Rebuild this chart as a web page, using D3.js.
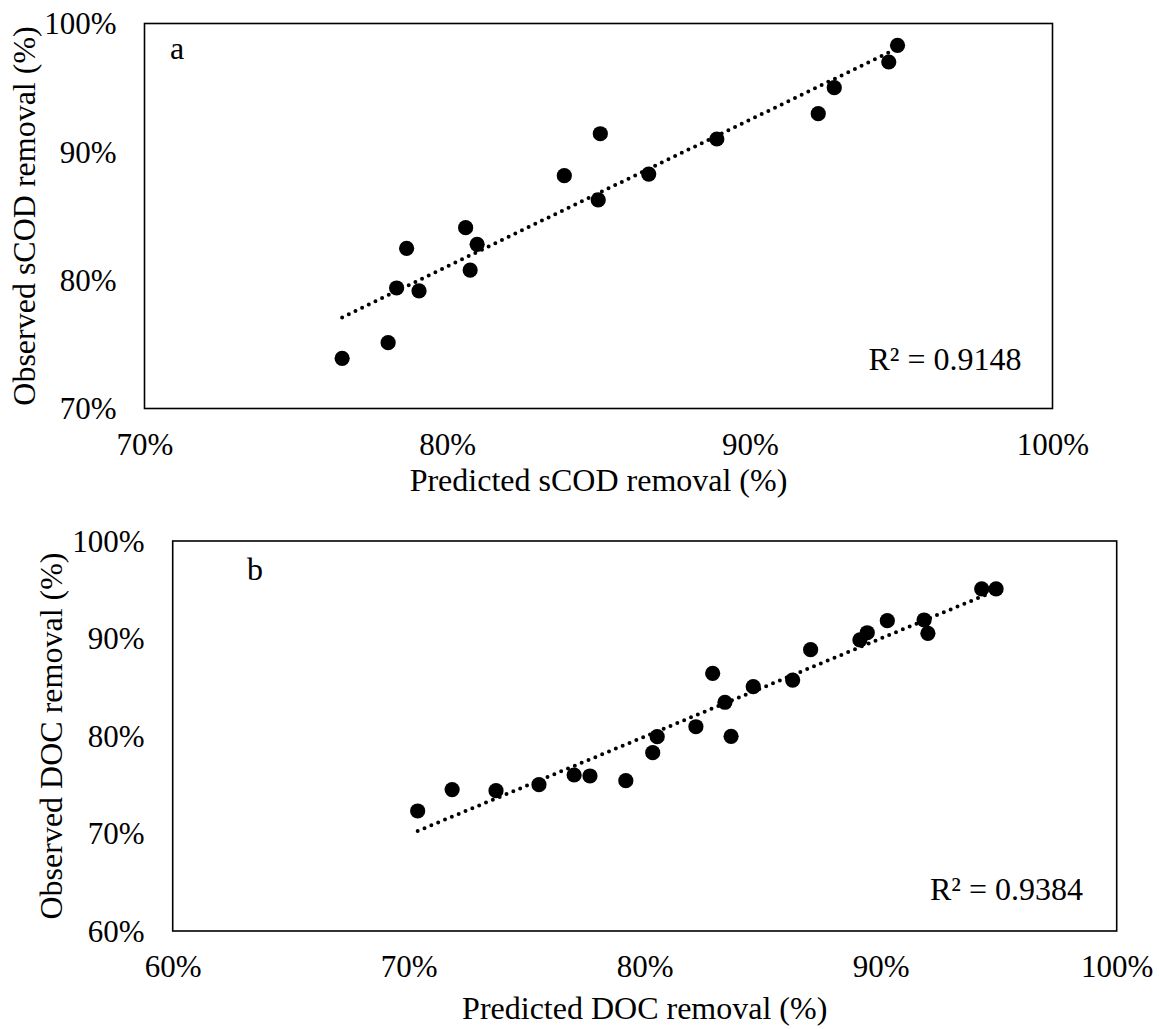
<!DOCTYPE html>
<html>
<head>
<meta charset="utf-8">
<script src="https://cdn.jsdelivr.net/npm/d3@7"></script>
<style>
  html, body { margin: 0; padding: 0; background: #fff; }
  text { font-family: "Liberation Serif", "Times New Roman", serif; fill: #000; }
</style>
</head>
<body>
<svg id="chart" width="1159" height="1029"></svg>
<script>
// ---- Data (percent) ----
// Panel a: sCOD
const predA = [76.53, 78.05, 78.33, 78.66, 79.07, 80.61, 80.76, 80.99, 83.87, 85.06, 84.99, 86.66, 88.91, 92.26, 92.79, 94.59, 94.88];
const obsA  = [73.91, 75.13, 79.39, 82.48, 79.16, 84.09, 80.79, 82.79, 88.14, 91.41, 86.25, 88.27, 91.00, 92.97, 95.00, 97.00, 98.30];
const xTicksA = [70, 80, 90, 100];
const yTicksA = [70, 80, 90, 100];
const r2A = "R\u00B2 = 0.9148";

// Panel b: DOC
const predB = [70.38, 71.84, 73.70, 75.52, 77.01, 77.68, 79.20, 80.34, 80.53, 82.17, 82.88, 83.40, 83.66, 84.60, 86.27, 87.03, 89.12, 89.43, 90.28, 91.84, 92.00, 94.28, 94.89];
const obsB  = [72.31, 74.51, 74.39, 75.01, 76.00, 75.90, 75.42, 78.29, 79.93, 80.95, 86.43, 83.46, 79.97, 85.06, 85.74, 88.85, 89.85, 90.59, 91.83, 91.90, 90.53, 95.08, 95.08];
const xTicksB = [60, 70, 80, 90, 100];
const yTicksB = [60, 70, 80, 90, 100];
const r2B = "R\u00B2 = 0.9384";

const panels = [
  { pred: predA, obs: obsA, xTicks: xTicksA, yTicks: yTicksA, r2: r2A,
    tag: "a", xTitle: "Predicted sCOD removal (%)", yTitle: "Observed sCOD removal (%)",
    left: 144.5, right: 1052.5, top: 23.5, bottom: 408.5,
    tagX: 170, tagY: 59, r2X: 1021.5, r2Y: 370, xTitleY: 491, yTitleX: 35 },
  { pred: predB, obs: obsB, xTicks: xTicksB, yTicks: yTicksB, r2: r2B,
    tag: "b", xTitle: "Predicted DOC removal (%)", yTitle: "Observed DOC removal (%)",
    left: 172.7, right: 1116.7, top: 541, bottom: 931,
    tagX: 247, tagY: 580, r2X: 1083, r2Y: 899.5, xTitleY: 1019, yTitleX: 62 }
];

const svg = d3.select("#chart");
svg.append("rect").attr("width", 1159).attr("height", 1029).attr("fill", "#fff");

const fmt = d => d + "%";

panels.forEach(p => {
  const xDom = d3.extent(p.xTicks), yDom = d3.extent(p.yTicks);
  const x = d3.scaleLinear().domain(xDom).range([p.left, p.right]);
  const y = d3.scaleLinear().domain(yDom).range([p.bottom, p.top]);
  const g = svg.append("g");

  // x axis labels
  const xa = g.append("g").attr("transform", `translate(0,${p.bottom})`)
    .call(d3.axisBottom(x).tickValues(p.xTicks).tickFormat(fmt).tickSize(0).tickPadding(0));
  xa.select(".domain").remove();
  xa.selectAll("text").attr("font-size", 31).attr("dy", null).attr("y", 46)
    .style("font-family", '"Liberation Serif", serif').attr("fill", "#000");

  // y axis labels
  const ya = g.append("g").attr("transform", `translate(${p.left},0)`)
    .call(d3.axisLeft(y).tickValues(p.yTicks).tickFormat(fmt).tickSize(0).tickPadding(0));
  ya.select(".domain").remove();
  ya.selectAll("text").attr("font-size", 31).attr("x", -28).attr("dy", "0.33em")
    .style("font-family", '"Liberation Serif", serif').attr("fill", "#000");

  // plot border
  g.append("rect")
    .attr("x", p.left).attr("y", p.top)
    .attr("width", p.right - p.left).attr("height", p.bottom - p.top)
    .attr("fill", "none").attr("stroke", "#000").attr("stroke-width", 1.6);

  // linear trendline (least squares)
  const n = p.pred.length;
  const mx = d3.mean(p.pred), my = d3.mean(p.obs);
  let sxy = 0, sxx = 0;
  for (let i = 0; i < n; i++) { sxy += (p.pred[i] - mx) * (p.obs[i] - my); sxx += (p.pred[i] - mx) ** 2; }
  const slope = sxy / sxx, icpt = my - slope * mx;
  const [x0, x1] = d3.extent(p.pred);
  g.append("line")
    .attr("x1", x(x0)).attr("y1", y(slope * x0 + icpt))
    .attr("x2", x(x1)).attr("y2", y(slope * x1 + icpt))
    .attr("stroke", "#000").attr("stroke-width", 4)
    .attr("stroke-linecap", "round").attr("stroke-dasharray", "0 7.4");

  // points
  g.selectAll("circle.pt").data(p.pred.map((v, i) => [v, p.obs[i]]))
    .enter().append("circle").attr("class", "pt")
    .attr("cx", d => x(d[0])).attr("cy", d => y(d[1]))
    .attr("r", 7.6).attr("fill", "#000");

  // panel tag
  g.append("text").attr("x", p.tagX).attr("y", p.tagY).attr("font-size", 32).text(p.tag);

  // R²
  g.append("text").attr("x", p.r2X).attr("y", p.r2Y).attr("font-size", 32)
    .attr("text-anchor", "end").text(p.r2);

  // axis titles
  g.append("text").attr("x", (p.left + p.right) / 2).attr("y", p.xTitleY)
    .attr("font-size", 32).attr("text-anchor", "middle").text(p.xTitle);
  g.append("text")
    .attr("transform", `translate(${p.yTitleX},${(p.top + p.bottom) / 2}) rotate(-90)`)
    .attr("font-size", 32).attr("text-anchor", "middle").text(p.yTitle);
});
</script>
</body>
</html>
